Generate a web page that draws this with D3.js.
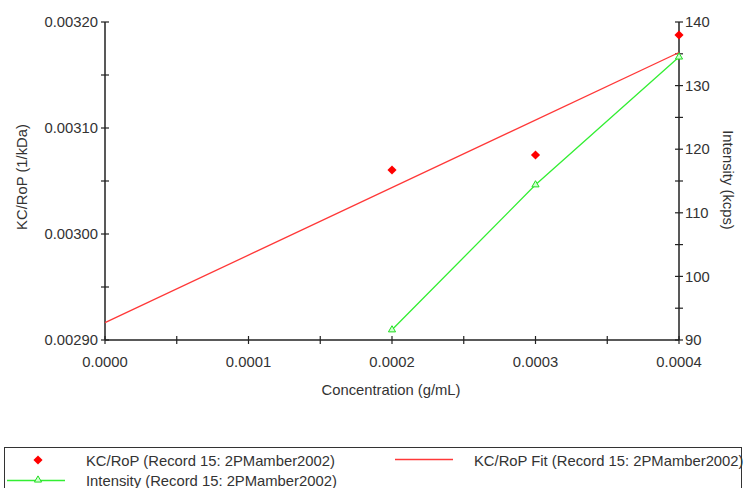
<!DOCTYPE html>
<html>
<head>
<meta charset="utf-8">
<script src="https://cdn.jsdelivr.net/npm/d3@7"></script>
<style>
  body { margin: 0; background: #fff; }
  text { font-family: "Liberation Sans", Arial, sans-serif; fill: #333; }
</style>
</head>
<body>
<div id="chart"></div>
<script>
// chart data
const concentration = [0.0002, 0.0003, 0.0004];
const kcRop = [0.0030604, 0.0030745, 0.0031877];
const fitX = [0.0, 0.0004];
const fitY = [0.0029164, 0.0031712];
const intensity = [91.6, 114.4, 134.5];

const xTicks = [0, 0.0001, 0.0002, 0.0003, 0.0004];
const yLeftTicks = [0.0029, 0.0030, 0.0031, 0.0032];
const yRightTicks = [90, 100, 110, 120, 130, 140];

const legendItems = ["KC/RoP (Record 15: 2PMamber2002)", "KC/RoP Fit (Record 15: 2PMamber2002)", "Intensity (Record 15: 2PMamber2002)"];

const w = 746, h = 488;
const m = {left: 105, right: 679, top: 22, bottom: 340};
const fs = 14.8;

const svg = d3.select("#chart").append("svg").attr("width", w).attr("height", h);

const x = d3.scaleLinear().domain([0, 0.0004]).range([m.left, m.right]);
const yL = d3.scaleLinear().domain([0.0029, 0.0032]).range([m.bottom, m.top]);
const yR = d3.scaleLinear().domain([90, 140]).range([m.bottom, m.top]);

// axes with crossing minor ticks
const axisColor = "#222";
const drawAxis = (g, scale, major, minor, orient, fmt) => {
  const isX = orient === "bottom";
  const r = scale.range();
  g.append("line")
    .attr("x1", isX ? r[0] : 0).attr("x2", isX ? r[1] : 0)
    .attr("y1", isX ? 0 : r[0]).attr("y2", isX ? 0 : r[1])
    .attr("stroke", axisColor).attr("stroke-width", 1.5);
  const all = major.concat(minor);
  g.selectAll("line.tick").data(all).enter().append("line")
    .attr("class", "tick")
    .attr("x1", d => isX ? scale(d) : -4).attr("x2", d => isX ? scale(d) : 4)
    .attr("y1", d => isX ? -4 : scale(d)).attr("y2", d => isX ? 4 : scale(d))
    .attr("stroke", axisColor).attr("stroke-width", 1.2);
  g.selectAll("text").data(major).enter().append("text")
    .attr("x", d => isX ? scale(d) : (orient === "left" ? -7 : 6))
    .attr("y", d => isX ? 27 : scale(d))
    .attr("dy", isX ? 0 : "0.35em")
    .attr("text-anchor", isX ? "middle" : (orient === "left" ? "end" : "start"))
    .attr("font-size", fs)
    .text(fmt);
};

const xMinor = [0.00005, 0.00015, 0.00025, 0.00035];
drawAxis(svg.append("g").attr("transform", `translate(0,${m.bottom})`), x, xTicks, xMinor, "bottom", d3.format(".4f"));
drawAxis(svg.append("g").attr("transform", `translate(${m.left},0)`), yL, yLeftTicks, [0.00295, 0.00305, 0.00315], "left", d3.format(".5f"));
drawAxis(svg.append("g").attr("transform", `translate(${m.right},0)`), yR, yRightTicks, [95, 105, 115, 125, 135], "right", d => d);

// axis titles
svg.append("text").attr("x", 391).attr("y", 395)
  .attr("text-anchor", "middle").attr("font-size", fs).text("Concentration (g/mL)");
svg.append("text").attr("transform", `translate(27,177) rotate(-90)`)
  .attr("text-anchor", "middle").attr("font-size", fs).text("KC/RoP (1/kDa)");
svg.append("text").attr("transform", `translate(723,180) rotate(90)`)
  .attr("text-anchor", "middle").attr("font-size", fs).text("Intensity (kcps)");

// fit line
svg.append("path")
  .datum(fitX.map((d, i) => [d, fitY[i]]))
  .attr("d", d3.line().x(d => x(d[0])).y(d => yL(d[1])))
  .attr("fill", "none").attr("stroke", "#ff3838").attr("stroke-width", 1.3);

// intensity line
const intData = concentration.map((d, i) => [d, intensity[i]]);
svg.append("path")
  .datum(intData)
  .attr("d", d3.line().x(d => x(d[0])).y(d => yR(d[1])))
  .attr("fill", "none").attr("stroke", "#33ee33").attr("stroke-width", 1.3);

const tri = d3.symbol().type(d3.symbolTriangle).size(22);
svg.selectAll("path.tri").data(intData).enter().append("path")
  .attr("class", "tri")
  .attr("transform", d => `translate(${x(d[0])},${yR(d[1])})`)
  .attr("d", tri)
  .attr("fill", "#cfffcf").attr("stroke", "#22dd22").attr("stroke-width", 1);

// KC/RoP points (square turned 45 degrees)
const diamond = d3.symbol().type(d3.symbolSquare).size(42);
svg.selectAll("path.dia").data(concentration.map((d, i) => [d, kcRop[i]])).enter().append("path")
  .attr("class", "dia")
  .attr("transform", d => `translate(${x(d[0])},${yL(d[1])}) rotate(45)`)
  .attr("d", diamond)
  .attr("fill", "#ff0000");

// legend
const lg = svg.append("g");
lg.append("rect").attr("x", 4.5).attr("y", 447.5).attr("width", 737).attr("height", 60)
  .attr("fill", "none").attr("stroke", "#333").attr("stroke-width", 1);
lg.append("path").attr("transform", "translate(38,460) rotate(45)").attr("d", diamond).attr("fill", "#ff0000");
lg.append("text").attr("x", 86).attr("y", 465.5).attr("font-size", fs).text(legendItems[0]);
lg.append("line").attr("x1", 395).attr("x2", 453).attr("y1", 459.5).attr("y2", 459.5)
  .attr("stroke", "#ff3838").attr("stroke-width", 1.5);
lg.append("text").attr("x", 474).attr("y", 465.5).attr("font-size", fs).text(legendItems[1]);
lg.append("line").attr("x1", 7).attr("x2", 65).attr("y1", 480.5).attr("y2", 480.5)
  .attr("stroke", "#33ee33").attr("stroke-width", 1.5);
lg.append("path").attr("transform", "translate(38,480)").attr("d", tri)
  .attr("fill", "#cfffcf").attr("stroke", "#22dd22");
lg.append("text").attr("x", 86).attr("y", 486).attr("font-size", fs).text(legendItems[2]);
</script>
</body>
</html>
